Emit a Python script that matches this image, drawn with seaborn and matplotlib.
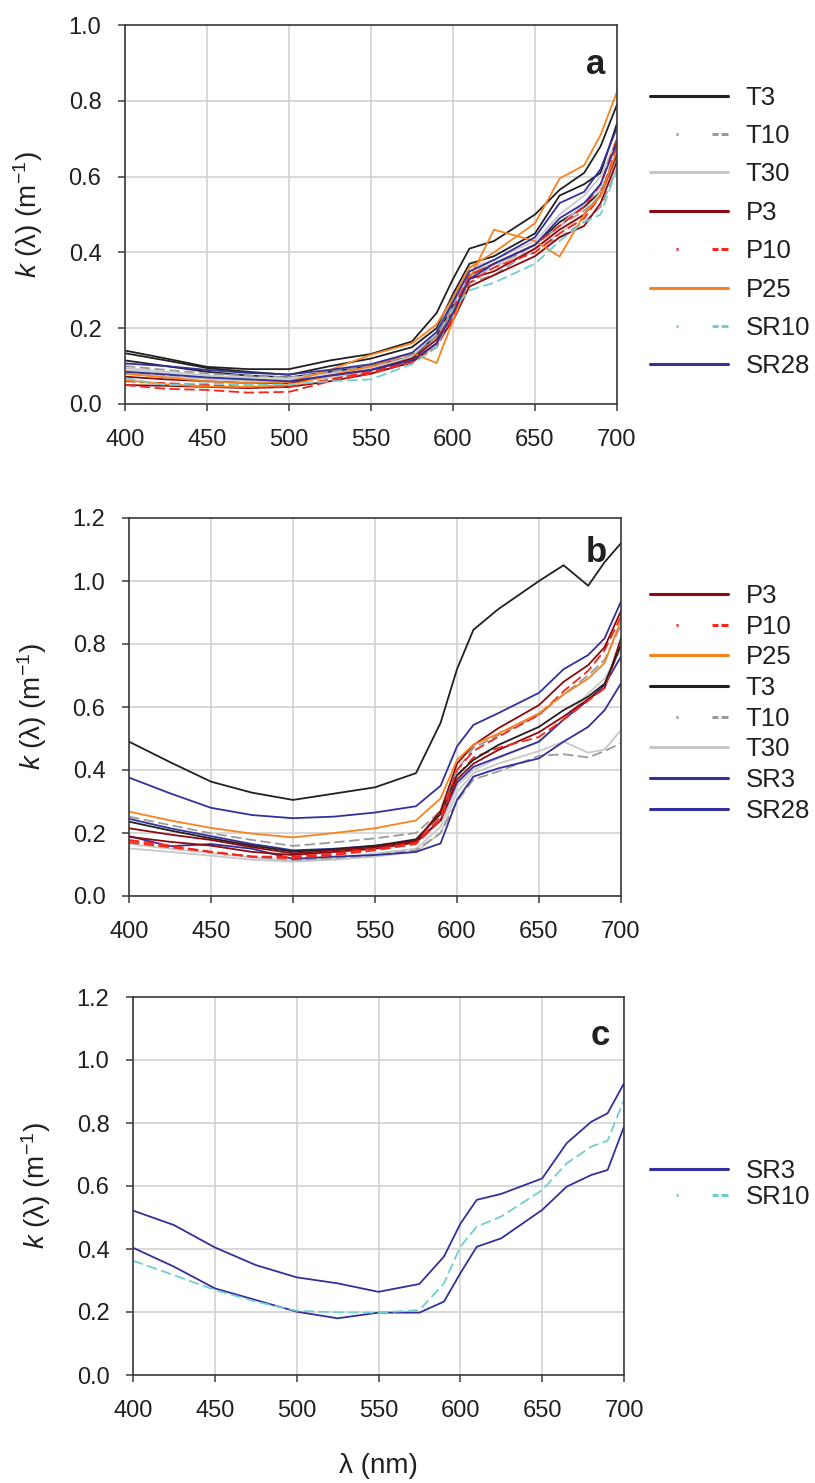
import numpy as np
import pandas as pd
import matplotlib
matplotlib.use("Agg")
import matplotlib.pyplot as plt
from matplotlib.lines import Line2D
import seaborn as sns

# ---------------- data ----------------
wavelength = [400, 425, 450, 475, 500, 525, 550, 575, 590, 600, 610, 625, 650, 665, 680, 690, 700]

# panel a
a_T3_1 = [0.141, 0.120, 0.098, 0.092, 0.092, 0.115, 0.132, 0.165, 0.240, 0.330, 0.410, 0.430, 0.500, 0.565, 0.610, 0.680, 0.790]
a_T3_2 = [0.134, 0.115, 0.095, 0.085, 0.077, 0.100, 0.120, 0.150, 0.200, 0.290, 0.370, 0.390, 0.450, 0.550, 0.580, 0.610, 0.740]
a_T3_3 = [0.115, 0.100, 0.085, 0.075, 0.070, 0.085, 0.100, 0.125, 0.180, 0.260, 0.340, 0.370, 0.420, 0.480, 0.520, 0.560, 0.660]
a_T10_1 = [0.100, 0.090, 0.080, 0.075, 0.070, 0.085, 0.100, 0.130, 0.180, 0.260, 0.340, 0.360, 0.420, 0.470, 0.510, 0.550, 0.650]
a_T10_2 = [0.085, 0.075, 0.068, 0.062, 0.060, 0.070, 0.085, 0.110, 0.150, 0.230, 0.320, 0.340, 0.410, 0.440, 0.480, 0.520, 0.620]
a_T30_1 = [0.095, 0.085, 0.075, 0.070, 0.068, 0.080, 0.095, 0.125, 0.190, 0.280, 0.360, 0.380, 0.430, 0.500, 0.550, 0.600, 0.700]
a_T30_2 = [0.090, 0.080, 0.070, 0.065, 0.063, 0.075, 0.088, 0.118, 0.170, 0.250, 0.350, 0.370, 0.400, 0.470, 0.530, 0.570, 0.640]
a_T30_3 = [0.080, 0.072, 0.066, 0.060, 0.058, 0.070, 0.082, 0.110, 0.160, 0.240, 0.330, 0.360, 0.410, 0.450, 0.500, 0.560, 0.620]
a_P3_1 = [0.072, 0.065, 0.060, 0.055, 0.055, 0.075, 0.090, 0.120, 0.170, 0.240, 0.330, 0.350, 0.410, 0.460, 0.500, 0.550, 0.660]
a_P3_2 = [0.050, 0.048, 0.045, 0.042, 0.045, 0.060, 0.080, 0.110, 0.160, 0.220, 0.310, 0.340, 0.390, 0.440, 0.470, 0.530, 0.640]
a_P10_1 = [0.050, 0.040, 0.037, 0.030, 0.032, 0.060, 0.081, 0.110, 0.150, 0.230, 0.320, 0.360, 0.400, 0.450, 0.490, 0.550, 0.680]
a_P10_2 = [0.060, 0.055, 0.050, 0.045, 0.045, 0.065, 0.085, 0.115, 0.160, 0.250, 0.340, 0.370, 0.420, 0.470, 0.520, 0.580, 0.700]
a_P25_1 = [0.080, 0.070, 0.060, 0.055, 0.058, 0.090, 0.130, 0.160, 0.210, 0.280, 0.360, 0.400, 0.477, 0.595, 0.630, 0.710, 0.824]
a_P25_2 = [0.063, 0.052, 0.046, 0.045, 0.050, 0.075, 0.100, 0.135, 0.108, 0.220, 0.330, 0.460, 0.430, 0.389, 0.500, 0.550, 0.670]
a_SR10_1 = [0.068, 0.050, 0.055, 0.050, 0.052, 0.060, 0.065, 0.105, 0.150, 0.250, 0.300, 0.320, 0.370, 0.430, 0.480, 0.500, 0.620]
a_SR28_1 = [0.107, 0.100, 0.090, 0.082, 0.078, 0.090, 0.105, 0.135, 0.190, 0.270, 0.350, 0.380, 0.440, 0.530, 0.560, 0.620, 0.730]
a_SR28_2 = [0.085, 0.078, 0.070, 0.065, 0.060, 0.075, 0.090, 0.115, 0.160, 0.240, 0.330, 0.370, 0.420, 0.490, 0.530, 0.580, 0.690]

# panel b
b_T3_1 = [0.490, 0.425, 0.363, 0.328, 0.305, 0.325, 0.345, 0.390, 0.550, 0.720, 0.845, 0.910, 1.000, 1.050, 0.985, 1.060, 1.120]
b_T3_2 = [0.236, 0.208, 0.183, 0.160, 0.141, 0.148, 0.159, 0.180, 0.260, 0.384, 0.432, 0.479, 0.537, 0.590, 0.633, 0.674, 0.797]
b_T10_1 = [0.252, 0.225, 0.199, 0.178, 0.159, 0.170, 0.183, 0.200, 0.270, 0.400, 0.470, 0.510, 0.575, 0.640, 0.700, 0.750, 0.860]
b_T10_2 = [0.175, 0.155, 0.140, 0.125, 0.114, 0.120, 0.130, 0.145, 0.200, 0.300, 0.370, 0.395, 0.445, 0.450, 0.440, 0.460, 0.485]
b_T30_1 = [0.151, 0.140, 0.128, 0.115, 0.109, 0.115, 0.125, 0.140, 0.200, 0.330, 0.390, 0.420, 0.460, 0.490, 0.455, 0.465, 0.527]
b_T30_2 = [0.165, 0.150, 0.136, 0.122, 0.112, 0.120, 0.135, 0.150, 0.220, 0.350, 0.400, 0.437, 0.490, 0.560, 0.643, 0.690, 0.780]
b_P3_1 = [0.215, 0.195, 0.178, 0.155, 0.135, 0.145, 0.155, 0.175, 0.270, 0.420, 0.479, 0.532, 0.606, 0.680, 0.733, 0.790, 0.905]
b_P3_2 = [0.188, 0.172, 0.160, 0.140, 0.130, 0.140, 0.150, 0.170, 0.240, 0.370, 0.420, 0.463, 0.520, 0.570, 0.625, 0.660, 0.818]
b_P10_1 = [0.178, 0.160, 0.140, 0.125, 0.125, 0.135, 0.150, 0.170, 0.250, 0.400, 0.460, 0.505, 0.575, 0.650, 0.715, 0.780, 0.887]
b_P10_2 = [0.170, 0.155, 0.140, 0.125, 0.120, 0.130, 0.145, 0.165, 0.240, 0.380, 0.440, 0.470, 0.505, 0.560, 0.620, 0.660, 0.800]
b_P25_1 = [0.268, 0.240, 0.216, 0.198, 0.186, 0.200, 0.215, 0.240, 0.310, 0.432, 0.480, 0.515, 0.580, 0.640, 0.690, 0.740, 0.876]
b_SR3_1 = [0.376, 0.326, 0.280, 0.257, 0.247, 0.252, 0.265, 0.285, 0.350, 0.475, 0.543, 0.580, 0.645, 0.720, 0.765, 0.818, 0.935]
b_SR28_1 = [0.245, 0.215, 0.190, 0.165, 0.145, 0.150, 0.160, 0.175, 0.240, 0.360, 0.410, 0.440, 0.490, 0.560, 0.622, 0.670, 0.760]
b_SR28_2 = [0.190, 0.158, 0.165, 0.150, 0.118, 0.125, 0.130, 0.140, 0.167, 0.305, 0.379, 0.405, 0.437, 0.490, 0.537, 0.590, 0.675]

# panel c
c_SR3_1 = [0.522, 0.476, 0.405, 0.349, 0.310, 0.291, 0.264, 0.289, 0.376, 0.480, 0.556, 0.575, 0.624, 0.736, 0.804, 0.831, 0.926]
c_SR3_2 = [0.404, 0.344, 0.275, 0.238, 0.201, 0.180, 0.198, 0.198, 0.233, 0.323, 0.407, 0.434, 0.524, 0.598, 0.635, 0.651, 0.788]
c_SR10_1 = [0.363, 0.317, 0.270, 0.233, 0.204, 0.199, 0.198, 0.206, 0.291, 0.407, 0.471, 0.503, 0.587, 0.672, 0.725, 0.744, 0.873]

x_ticks = [400, 450, 500, 550, 600, 650, 700]
legend_a = ["T3", "T10", "T30", "P3", "P10", "P25", "SR10", "SR28"]
legend_b = ["P3", "P10", "P25", "T3", "T10", "T30", "SR3", "SR28"]
legend_c = ["SR3", "SR10"]

# ---------------- style ----------------
sns.set_theme(style="whitegrid")
plt.rcParams['font.family'] = ['Liberation Sans', 'DejaVu Sans']
plt.rcParams['mathtext.fontset'] = 'custom'
plt.rcParams['mathtext.rm'] = 'Liberation Sans'
plt.rcParams['mathtext.it'] = 'Liberation Sans:italic'
plt.rcParams['lines.scale_dashes'] = False

styles = {
    "T3": dict(color="#231f20", dashed=False),
    "T10": dict(color="#9a9a9a", dashed=True),
    "T30": dict(color="#c8c8c8", dashed=False),
    "P3": dict(color="#8b0a0f", dashed=False),
    "P10": dict(color="#f5261c", dashed=True),
    "P25": dict(color="#f7821e", dashed=False),
    "SR3": dict(color="#33309a", dashed=False),
    "SR10": dict(color="#6fcfcb", dashed=True),
    "SR28": dict(color="#33309a", dashed=False),
}
DATA_DASH = (0, (7.5, 3.2))
LEG_DASH = (37.4, (1.44, 24.5, 4.3, 2.2, 5.0, 18.7))
TXT = "#231f20"

fig = plt.figure(figsize=(8.15, 14.83), dpi=100)
ax_a = fig.add_axes([125/815, 1-404/1483, 492/815, 379/1483])
ax_b = fig.add_axes([129/815, 1-896/1483, 492/815, 378/1483])
ax_c = fig.add_axes([133/815, 1-1375/1483, 491/815, 378/1483])

panels = [
    (ax_a, [("T3", a_T3_1), ("T3", a_T3_2), ("T3", a_T3_3), ("T10", a_T10_1), ("T10", a_T10_2),
            ("T30", a_T30_1), ("T30", a_T30_2), ("T30", a_T30_3), ("P3", a_P3_1), ("P3", a_P3_2),
            ("P10", a_P10_1), ("P10", a_P10_2), ("P25", a_P25_1), ("P25", a_P25_2),
            ("SR10", a_SR10_1), ("SR28", a_SR28_1), ("SR28", a_SR28_2)],
     1.0, legend_a, "a", 0.56, (0.976, 0.897), (1.067, 0.454)),
    (ax_b, [("T30", b_T30_1), ("T30", b_T30_2), ("T10", b_T10_1), ("T10", b_T10_2),
            ("SR28", b_SR28_1), ("SR28", b_SR28_2), ("P3", b_P3_2), ("P10", b_P10_2),
            ("T3", b_T3_2), ("P10", b_P10_1), ("P3", b_P3_1), ("P25", b_P25_1),
            ("SR3", b_SR3_1), ("T3", b_T3_1)],
     1.2, legend_b, "b", 0.26, (0.972, 0.91), (1.059, 0.51)),
    (ax_c, [("SR3", c_SR3_1), ("SR3", c_SR3_2), ("SR10", c_SR10_1)],
     1.2, legend_c, "c", 0.09, (0.971, 0.897), (1.053, 0.505)),
]

for ax, curves, ymax, leg_labels, letter, lspace, letter_pos, leg_pos in panels:
    for name, vals in curves:
        st = styles[name]
        sns.lineplot(x=wavelength, y=vals, ax=ax, color=st["color"], lw=1.3,
                     linestyle=DATA_DASH if st["dashed"] else "-", legend=False)
    ax.set_xlim(400, 700)
    ax.set_ylim(0, ymax)
    ax.set_xticks(x_ticks)
    yt = np.arange(0, ymax + 0.001, 0.2)
    ax.set_yticks(yt)
    ax.set_yticklabels([f"{v:.1f}" for v in yt])
    ax.grid(True, color="#d2d2d2", lw=1.2)
    ax.set_facecolor("white")
    for sp in ax.spines.values():
        sp.set_color("#3a3a3a")
        sp.set_linewidth(1.2)
    ax.tick_params(axis="both", direction="out", length=5, width=1.1, color="#3a3a3a",
                   labelsize=17, labelcolor=TXT, left=True, bottom=True)
    ax.tick_params(axis="y", pad=12)
    ax.tick_params(axis="x", pad=13)
    ax.set_ylabel(r"$k$ (λ) (m$^{-1}$)", fontsize=20, color=TXT)
    ax.yaxis.set_label_coords(-0.163, 0.5)
    ax.text(letter_pos[0], letter_pos[1], letter, transform=ax.transAxes, ha="right",
            va="center", fontsize=25, fontweight="bold", color=TXT)
    handles = []
    for lab in leg_labels:
        st = styles[lab]
        handles.append(Line2D([0], [0], color=st["color"], lw=2.2,
                              linestyle=LEG_DASH if st["dashed"] else "-"))
    ax.legend(handles, leg_labels, loc="center left", bbox_to_anchor=leg_pos,
              frameon=False, fontsize=18.5, handlelength=3.03, handletextpad=0.7,
              labelspacing=lspace, borderaxespad=0, borderpad=0, labelcolor=TXT)

ax_c.set_xlabel("λ (nm)", fontsize=20, color=TXT, labelpad=22)

fig.savefig("out.png", dpi=100, facecolor="white")
